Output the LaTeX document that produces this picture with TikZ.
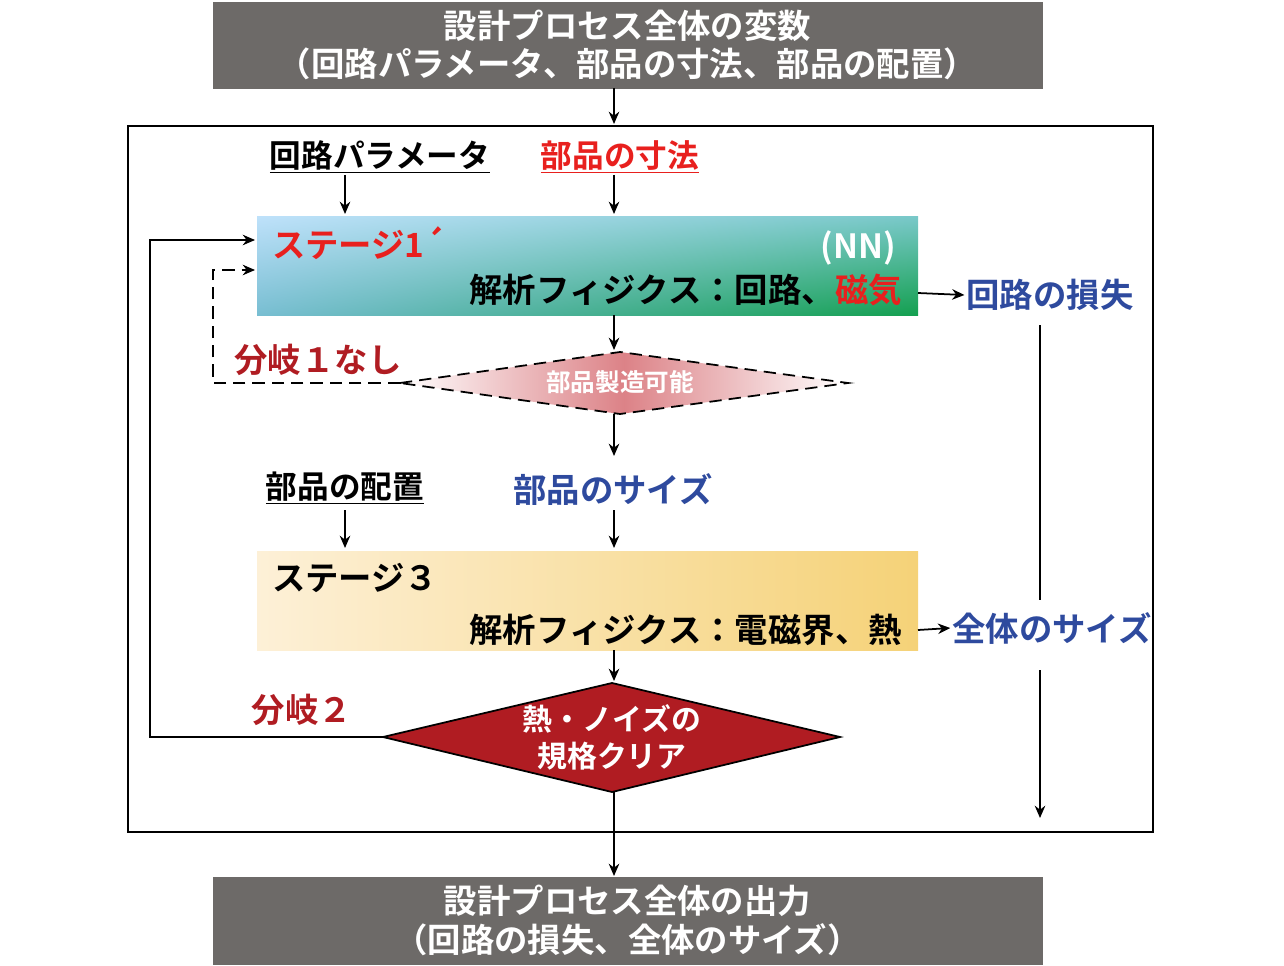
\documentclass[tikz,border=0pt]{standalone}
\usepackage{fontspec}
\setmainfont{Noto Sans CJK JP}[BoldFont={* Bold}]
\usetikzlibrary{shapes.geometric,arrows.meta,calc,shadings}
\definecolor{gbox}{HTML}{6D6A68}
\definecolor{myred}{HTML}{E8201E}
\definecolor{dred}{HTML}{B01C22}
\definecolor{myblue}{HTML}{2E4A9E}
\definecolor{sul}{RGB}{190,225,250}
\definecolor{sur}{RGB}{120,200,200}
\definecolor{sll}{RGB}{120,190,210}
\definecolor{slr}{RGB}{20,160,80}
\definecolor{pinkm}{RGB}{220,130,135}
\definecolor{creaml}{RGB}{253,240,215}
\definecolor{creamr}{RGB}{245,210,120}
\tikzset{
 gray box/.style={fill=gbox,draw=gbox,text=white,font=\bfseries\fontsize{19}{22}\selectfont,align=center},
 arr/.style={-{Stealth[length=7pt,width=6pt]},line width=1pt},
 lbl/.style={font=\bfseries\fontsize{18}{20}\selectfont,inner sep=1pt},
 big/.style={font=\bfseries\fontsize{19}{22}\selectfont,inner sep=1pt},
}
\begin{document}
\begin{tikzpicture}[x=0.02cm,y=-0.02cm]
\useasboundingbox (0,0) rectangle (1284,966);
\node[gray box,minimum width=829*0.02cm,minimum height=86*0.02cm] (top) at (627.5,45) {設計プロセス全体の変数\\（回路パラメータ、部品の寸法、部品の配置）};
\node[gray box,minimum width=829*0.02cm,minimum height=87*0.02cm] (bot) at (627.5,920.5) {設計プロセス全体の出力\\（回路の損失、全体のサイズ）};
\draw[line width=0.8pt] (128,126) rectangle (1153,832);
\coordinate (ft) at (614,124);
\draw[arr] (614,88) -- (ft);
% stage 1
\shade[upper left=sul,upper right=sur,lower left=sll,lower right=slr] (257,217) rectangle (918,315);
\node[lbl,text=black] (cp) at (380,157) {\underline{回路パラメータ}};
\node[lbl,text=myred] (dim) at (620,157) {\underline{部品の寸法}};
\draw[arr] (345,175) -- (345,214);
\draw[arr] (614,175) -- (614,214);
\node[big,text=myred,anchor=west] (st1) at (270,243) {ステージ1´};
\node[big,text=white,anchor=east] (nn) at (898,248) {(NN)};
\node[big,anchor=east] (ph1) at (904,290) {解析フィジクス：回路、\textcolor{myred}{磁気}};
\node[big,text=myblue] (loss) at (1050,295) {回路の損失};
\draw[arr] (918,293) -- (loss.west);
% diamond 1
\shade[left color=white,right color=white,middle color=pinkm] (400,383) -- (620,352) -- (848,383) -- (620,414) -- cycle;
\draw[line width=1pt,dash pattern=on 7pt off 4pt] (400,383) -- (620,352) -- (848,383) -- (620,414) -- cycle;
\node[font=\bfseries\fontsize{14}{16}\selectfont,text=white] (d1) at (620,382) {部品製造可能};
\draw[arr] (614,315) -- (614,350);
\node[big,text=dred] (b1) at (318,360) {分岐１なし};
\draw[arr,dash pattern=on 7pt off 4pt] (400,383) -- (213,383) -- (213,270) -- (255,270);
\draw[arr] (614,414) -- (614,456);
\node[lbl] (pl) at (345,488) {\underline{部品の配置}};
\node[big,text=myblue] (sz) at (613,490) {部品のサイズ};
\draw[arr] (345,510) -- (345,548);
\draw[arr] (614,510) -- (614,548);
% stage 3
\shade[left color=creaml,right color=creamr] (257,551) rectangle (918,650);
\node[big,anchor=west] (st3) at (270,578) {ステージ３};
\node[big,anchor=east] (ph3) at (904,630) {解析フィジクス：電磁界、熱};
\node[big,text=myblue] (tot) at (1052,628) {全体のサイズ};
\draw[arr] (918,630) -- (tot.west);
\draw[line width=1pt] (1040,325) -- (1040,600);
\draw[arr] (1040,670) -- (1040,818);
% diamond 2
\draw[fill=dred,line width=1pt] (383,737) -- (612,683) -- (840,737) -- (612,792) -- cycle;
\node[font=\bfseries\fontsize{17}{21}\selectfont,text=white,align=center] (d2) at (612,737) {熱・ノイズの\\規格クリア};
\draw[arr] (614,650) -- (614,681);
\node[big,text=dred] (b2) at (302,710) {分岐２};
\draw[arr] (383,737) -- (150,737) -- (150,240) -- (255,240);
\coordinate (bt) at (614,876);
\draw[arr] (614,792) -- (bt);
\end{tikzpicture}
\end{document}
